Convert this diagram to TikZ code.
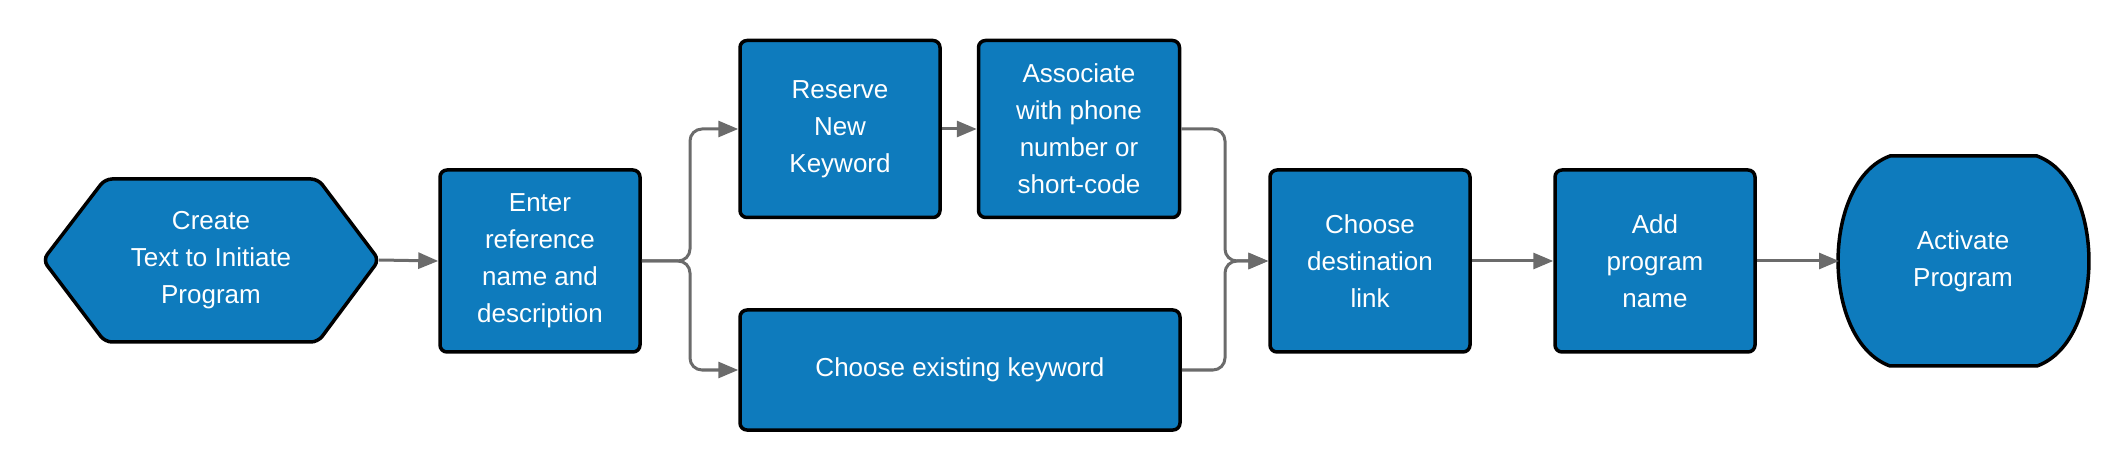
\documentclass[tikz,border=0pt]{standalone}
\usepackage{fontspec}
\setmainfont{Liberation Sans}
\usetikzlibrary{arrows.meta,shapes.geometric}
\definecolor{boxblue}{HTML}{0E7BBD}
\definecolor{linegray}{HTML}{6B6B6B}
\begin{document}
\begin{tikzpicture}[x=1pt,y=-1pt,
  box/.style={draw=black,line width=3.5pt,fill=boxblue,rounded corners=7pt,text=white,align=center,
    font=\fontsize{26}{37}\selectfont,inner sep=0pt},
  conn/.style={draw=linegray,line width=3pt,rounded corners=12pt,-{Triangle[length=20pt,width=16pt]}},
  plain/.style={draw=linegray,line width=3pt,rounded corners=12pt}]
\useasboundingbox (0,0) rectangle (2105,470);
\node[box,draw=none,fill=none] (hex) at (211,260) {Create\\Text to Initiate\\Program};
\draw[line width=3.5pt,fill=boxblue,rounded corners=7pt] (43,260) -- (105,179) -- (318,179) -- (379,260) -- (318,342) -- (105,342) -- cycle;
\node[text=white,align=center,font=\fontsize{26}{37}\selectfont] at (211,260) {Create\\Text to Initiate\\Program};
\coordinate (hexE) at (379,260);
\node[box,minimum width=200pt,minimum height=182pt] (enter) at (540,261) {Enter\\reference\\name and\\description};
\node[box,minimum width=200pt,minimum height=177pt] (reserve) at (840,129) {Reserve\\New\\Keyword};
\node[box,minimum width=201pt,minimum height=177pt] (assoc) at (1079,129) {Associate\\with phone\\number or\\short-code};
\node[box,minimum width=440pt,minimum height=120pt] (exist) at (960,370) {Choose existing keyword};
\node[box,minimum width=200pt,minimum height=182pt] (dest) at (1370,261) {Choose\\destination\\link};
\node[box,minimum width=200pt,minimum height=182pt] (add) at (1655,261) {Add\\program\\name};
\draw[line width=3.5pt,fill=boxblue] (1890,156) -- (2037,156) to[out=-20,in=20,looseness=0.9] (2037,366) -- (1890,366) to[out=160,in=200,looseness=0.9] (1890,156) -- cycle;
\node[text=white,align=center,font=\fontsize{26}{37}\selectfont] (act) at (1963,261) {Activate\\Program};
\coordinate (actW) at (1839,261);
\draw[conn] (hexE) -- (enter.west);
\draw[conn] (enter.east) -| (690,129) -- (reserve.west);
\draw[conn] (enter.east) -| (690,370) -- (exist.west);
\draw[conn] (reserve.east) -- (assoc.west);
\draw[conn] (assoc.east) -| (1225,261) -- (dest.west);
\draw[conn] (exist.east) -| (1225,261) -- (dest.west);
\draw[conn] (dest.east) -- (add.west);
\draw[conn] (add.east) -- (actW);
\end{tikzpicture}
\end{document}
